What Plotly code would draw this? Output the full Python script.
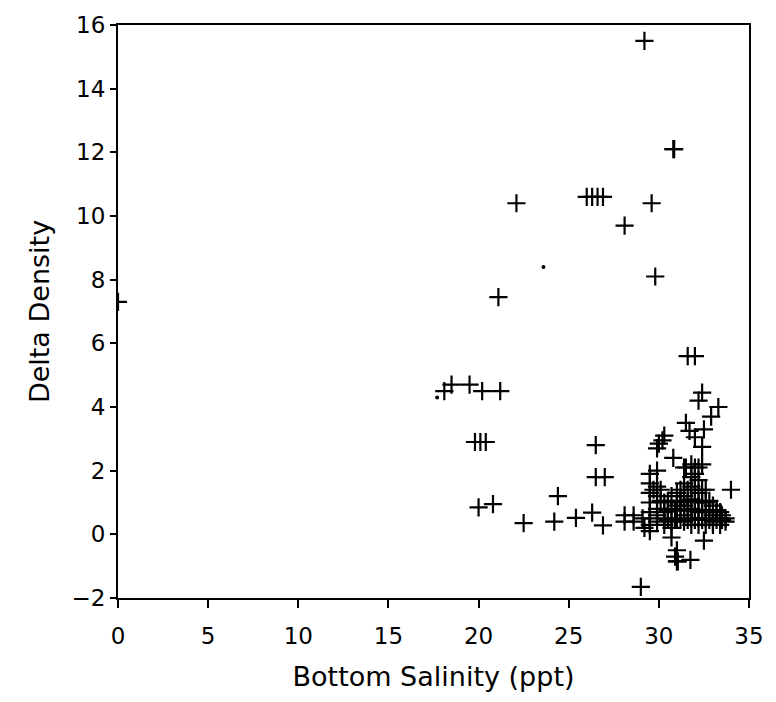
import plotly.graph_objects as go

# Scattered (isolated) observations
sal_main = [0.0, 29.2, 30.8, 30.85, 22.1, 26.0, 26.3, 26.6, 26.9, 29.6, 28.1, 29.8, 21.1,
            18.1, 18.5, 19.5, 20.2, 21.2, 19.8, 20.1, 20.4, 26.5, 26.5, 27.0, 24.4,
            20.0, 20.8, 22.5, 24.2, 25.4, 26.3, 26.9, 29.0,
            31.6, 32.0, 32.4, 32.2, 33.3, 32.9, 31.5, 31.7, 32.5, 32.0, 32.4, 30.3, 30.0,
            30.2, 29.9, 30.8, 31.5, 32.0, 32.4, 34.0,
            28.1, 28.6, 28.1, 28.6, 32.5, 31.0, 31.0, 31.05, 31.75, 30.9]
dd_main = [7.3, 15.5, 12.1, 12.1, 10.4, 10.6, 10.6, 10.6, 10.6, 10.4, 9.7, 8.1, 7.45,
           4.5, 4.7, 4.7, 4.5, 4.5, 2.9, 2.9, 2.9, 2.8, 1.8, 1.8, 1.2,
           0.85, 0.95, 0.35, 0.4, 0.52, 0.68, 0.28, -1.65,
           5.6, 5.6, 4.45, 4.2, 4.0, 3.7, 3.5, 3.25, 3.3, 3.05, 2.75, 3.1, 2.85,
           2.95, 2.7, 2.4, 2.1, 2.1, 2.2, 1.4,
           0.6, 0.6, 0.4, 0.4, -0.2, -0.5, -0.85, -0.85, -0.8, -0.7]

# Dense cluster of high-salinity stations
sal_cluster = [29.5, 29.5, 29.5, 29.5, 29.5, 29.5, 29.5, 29.5,
               29.9, 29.9, 29.9, 29.9, 29.9, 29.9,
               30.3, 30.3, 30.3, 30.3,
               30.7, 30.7, 30.7, 30.7, 30.7,
               31.0, 31.0, 31.0,
               31.4, 31.4, 31.4, 31.4, 31.4, 31.4,
               31.8, 31.8, 31.8, 31.8, 31.8, 31.8, 31.8,
               32.2, 32.2, 32.2, 32.2, 32.2, 32.2, 32.2,
               32.6, 32.6, 32.6, 32.6, 32.6,
               33.0, 33.0, 33.0, 33.0,
               33.4, 33.4, 33.4,
               33.7, 33.7, 29.1, 29.2, 32.0, 31.2,
               30.5, 30.9, 31.2, 31.6, 32.0, 32.4, 32.8, 33.2, 33.5,
               30.5, 30.9, 31.2, 31.6, 32.0, 32.4, 32.8, 33.2, 33.5,
               30.1, 30.5, 31.2, 31.6, 32.0, 32.4, 32.8, 33.2,
               29.7, 30.1, 31.2, 31.6, 32.0, 32.4]
dd_cluster = [1.9, 1.6, 1.3, 1.0, 0.7, 0.5, 0.3, 0.1,
              2.0, 1.5, 1.2, 0.8, 0.6, 0.4,
              1.0, 0.7, 0.5, 0.3,
              1.2, 0.8, 0.4, 0.2, -0.1,
              0.5, 0.9, 1.3,
              2.1, 1.6, 1.2, 0.9, 0.6, 0.4,
              2.2, 1.8, 1.5, 1.1, 0.8, 0.5, 0.3,
              2.1, 1.7, 1.3, 1.0, 0.7, 0.5, 0.3,
              1.4, 1.0, 0.7, 0.5, 0.3,
              0.9, 0.6, 0.4, 0.3,
              0.7, 0.5, 0.3,
              0.5, 0.4, 0.5, 0.2, 1.9, 1.0,
              0.45, 0.45, 0.45, 0.45, 0.45, 0.45, 0.45, 0.45, 0.45,
              0.75, 0.75, 0.75, 0.75, 0.75, 0.75, 0.75, 0.75, 0.6,
              1.05, 1.05, 1.05, 1.05, 1.05, 1.05, 1.05, 0.75,
              1.4, 1.4, 1.4, 1.4, 1.4, 1.4]

# Faint dot-like marks
sal_dots = [23.6, 17.7]
dd_dots = [8.4, 4.3]

x_ticks = [0, 5, 10, 15, 20, 25, 30, 35]
y_ticks = [-2, 0, 2, 4, 6, 8, 10, 12, 14, 16]

marker_style = dict(symbol="cross-thin-open", size=13, color="black",
                    line=dict(color="black", width=2.2))

fig = go.Figure()
fig.add_trace(go.Scatter(x=sal_main + sal_cluster, y=dd_main + dd_cluster,
                         mode="markers", marker=marker_style, showlegend=False))
fig.add_trace(go.Scatter(x=sal_dots, y=dd_dots, mode="markers",
                         marker=dict(symbol="circle", size=4, color="black"),
                         showlegend=False))

font_family = "DejaVu Sans"
fig.update_layout(
    width=776, height=702,
    margin=dict(l=118, r=22, t=20, b=104),
    paper_bgcolor="white", plot_bgcolor="white",
    font=dict(family=font_family, color="black"),
    xaxis=dict(range=[0, 35], tickvals=x_ticks, ticktext=[str(v) for v in x_ticks],
               showgrid=False, zeroline=False, showline=True, linecolor="black",
               linewidth=2, mirror=True, ticks="outside", ticklen=8, tickwidth=1.5,
               tickcolor="black", tickfont=dict(size=23), ticklabelstandoff=8,
               title=dict(text="Bottom Salinity (ppt)", font=dict(size=27), standoff=20)),
    yaxis=dict(range=[-2, 16], tickvals=y_ticks, ticktext=["\u22122"] + [str(v) for v in y_ticks[1:]],
               showgrid=False, zeroline=False, showline=True, linecolor="black",
               linewidth=2, mirror=True, ticks="outside", ticklen=6, tickwidth=1.5,
               tickcolor="black", tickfont=dict(size=23),
               title=dict(text="Delta Density", font=dict(size=27), standoff=14)),
)

fig.write_html("out.html")
